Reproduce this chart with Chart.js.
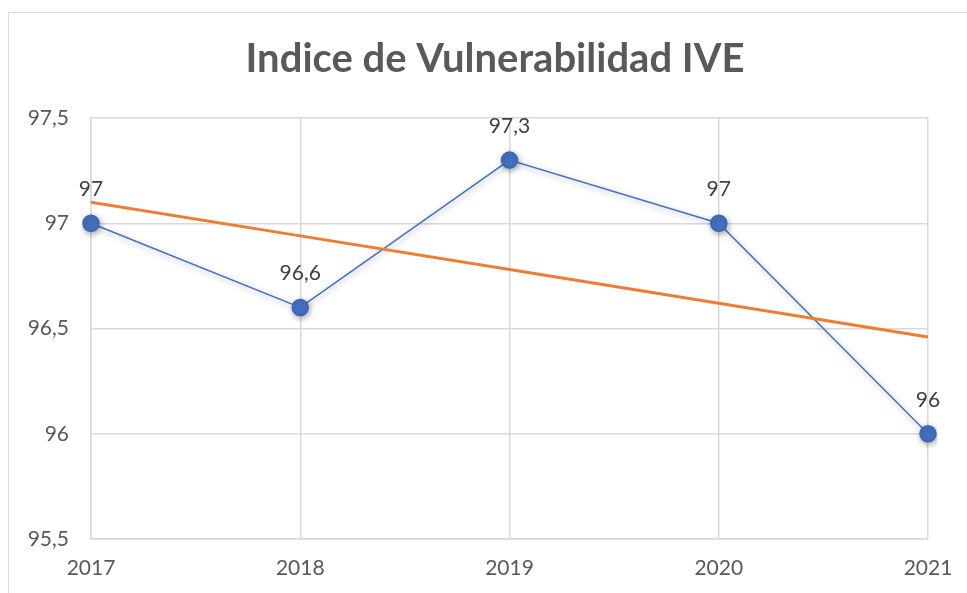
<!DOCTYPE html>
<html>
<head>
<meta charset="utf-8">
<script src="https://cdn.jsdelivr.net/npm/chart.js@4"></script>
<style>
  html, body { margin: 0; padding: 0; background: #fff; overflow: hidden; }
  #wrap {
    position: absolute; left: 8px; top: 12px;
    width: 972px; height: 581px;
    border-left: 1.5px solid #d9d9d9; border-top: 1.5px solid #d9d9d9;
  }
</style>
</head>
<body>
<div id="wrap"><canvas id="myChart"></canvas></div>
<script>
let years = ["2017", "2018", "2019", "2020", "2021"];
let ive = [97, 96.6, 97.3, 97, 96];
let trend = [97.1, 96.94, 96.78, 96.62, 96.46];
let yTicks = [95.5, 96, 96.5, 97, 97.5];
let titleText = "Indice de Vulnerabilidad IVE";

function fmt(v) {
  return String(v).replace(".", ",");
}

// soft shadow under the blue series, like the spreadsheet does
const shadowPlugin = {
  id: "shadow",
  beforeDatasetDraw(chart, args) {
    if (args.index !== 1) return;
    let ctx = chart.ctx;
    ctx.save();
    ctx.shadowColor = "rgba(0,0,0,0.35)";
    ctx.shadowBlur = 6;
    ctx.shadowOffsetX = 1;
    ctx.shadowOffsetY = 2;
  },
  afterDatasetDraw(chart, args) {
    if (args.index !== 1) return;
    chart.ctx.restore();
  },
};

// value labels above the points + title centred on the whole frame
const labelPlugin = {
  id: "pointLabels",
  afterDatasetsDraw(chart) {
    let ctx = chart.ctx;
    let meta = chart.getDatasetMeta(1);
    ctx.save();
    ctx.font = "21px Lato";
    ctx.fillStyle = "#404040";
    ctx.textAlign = "center";
    ctx.textBaseline = "middle";
    meta.data.forEach((pt, i) => {
      ctx.fillText(fmt(ive[i]), pt.x, pt.y - 34);
    });
    ctx.font = "bold 40px Lato";
    ctx.fillStyle = "#595959";
    ctx.fillText(titleText, chart.width / 2, 46);
    ctx.restore();
  },
};

let ctx = document.getElementById("myChart").getContext("2d");
let myChart = new Chart(ctx, {
  type: "line",
  data: {
    labels: years,
    datasets: [
      {
        label: "Tendencia",
        data: trend,
        borderColor: "#ED7D31",
        borderWidth: 3,
        pointRadius: 0,
        fill: false,
      },
      {
        label: "IVE",
        data: ive,
        borderColor: "#4472C4",
        borderWidth: 1.5,
        backgroundColor: "#4472C4",
        pointBackgroundColor: "#4472C4",
        pointBorderColor: "#3a66b5",
        pointRadius: 8,
        fill: false,
      },
    ],
  },
  options: {
    responsive: true,
    maintainAspectRatio: false,
    animation: false,
    layout: { padding: { left: 0, right: 53, top: 105, bottom: 0 } },
    plugins: {
      legend: { display: false },
      tooltip: { enabled: false },
      title: { display: false },
    },
    scales: {
      x: {
        offset: false,
        grid: { color: "#d9d9d9", lineWidth: 1.5, drawTicks: false },
        border: { color: "#d9d9d9", width: 1.5 },
        ticks: {
          color: "#595959",
          font: { family: "Lato", size: 21 },
          padding: 17,
          maxRotation: 0,
        },
        afterFit(scale) {
          scale.height = 55;
        },
      },
      y: {
        min: 95.5,
        max: 97.5,
        grid: { color: "#d9d9d9", lineWidth: 1.5, drawTicks: false },
        border: { color: "#d9d9d9", width: 1.5 },
        afterBuildTicks(scale) {
          scale.ticks = yTicks.map((v) => ({ value: v }));
        },
        ticks: {
          color: "#595959",
          font: { family: "Lato", size: 21 },
          padding: 22,
          callback: (v) => fmt(v),
        },
        afterFit(scale) {
          scale.width = 82;
        },
      },
    },
  },
  plugins: [shadowPlugin, labelPlugin],
});
</script>
</body>
</html>
